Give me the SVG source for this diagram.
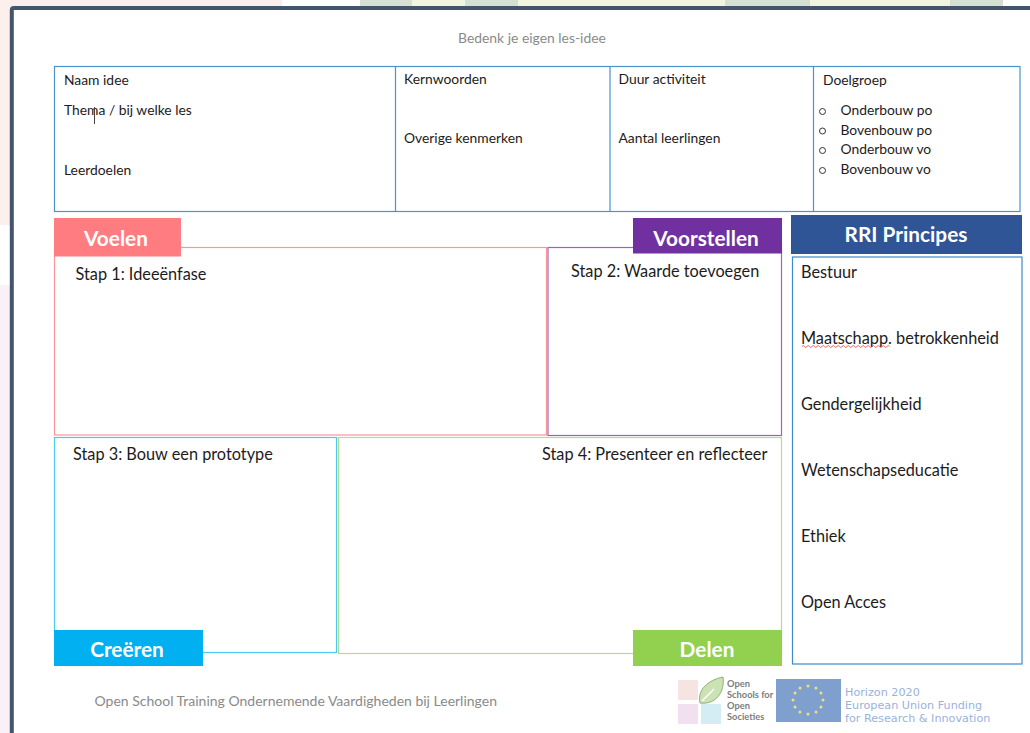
<svg xmlns="http://www.w3.org/2000/svg" width="1030" height="733" viewBox="0 0 1030 733">
<style>
text{font-family:Lato,"Liberation Sans",sans-serif;fill:#1c1c1c}
.s{font-size:13.85px}
.m{font-size:16.3px}
.g{font-size:13.9px;fill:#8a8a8a}
.b{font-size:20.8px;font-weight:700;fill:#fff;text-anchor:middle}
.l{fill:none;stroke-width:1.2}
.t{stroke:#4a93cf;fill:#fff;stroke-width:1.2}
.os{font-size:9.3px;font-weight:700;fill:#7d7d7d}
.hz{font-size:11.2px;fill:#9ab2da;font-family:"DejaVu Sans",sans-serif}
.gd{fill:#d6e0d0}
.lg{fill:#f0f6de}
</style>
<rect width="1030" height="733" fill="#fff"/>
<rect width="282" height="7" fill="#f8eeec"/>
<rect width="10" height="225" fill="#fbf0ec"/>
<rect y="285" width="10" height="448" fill="#f9f0f8"/>
<rect class="gd" x="360" width="52" height="7"/>
<rect class="lg" x="412" width="53" height="7"/>
<rect class="gd" x="465" width="53" height="7"/>
<rect class="lg" x="518" width="207" height="7"/>
<rect class="gd" x="725" width="85" height="7"/>
<rect class="lg" x="810" width="140" height="7"/>
<rect class="gd" x="950" width="53" height="7"/>
<path d="M11.800 733V10Q11.800 8 13.800 8H1030" fill="none" stroke="#44546a" stroke-width="4"/>
<text x="458" y="43" class="g">Bedenk je eigen les-idee</text>
<g id="info-table">
<rect class="t" x="54.500" y="66.500" width="965.500" height="145"/>
<path d="M395.500 66.500V211.500M610 66.500V211.500M813.500 66.500V211.500" stroke="#4a93cf" stroke-width="1.200" fill="none"/>
<text class="s" x="64" y="85">Naam idee</text>
<text class="s" x="64" y="115">Thema / bij welke les</text>
<path d="M94.500 107V124" stroke="#444" stroke-width="1"/>
<text class="s" x="64" y="175">Leerdoelen</text>
<text class="s" x="404" y="84">Kernwoorden</text>
<text class="s" x="404" y="143">Overige kenmerken</text>
<text class="s" x="618.500" y="84">Duur activiteit</text>
<text class="s" x="618.500" y="143">Aantal leerlingen</text>
<text class="s" x="823" y="85">Doelgroep</text>
<g fill="none" stroke="#333" stroke-width="1"><circle cx="822.500" cy="111.500" r="3"/><circle cx="822.500" cy="131" r="3"/><circle cx="822.500" cy="150.500" r="3"/><circle cx="822.500" cy="170.500" r="3"/></g>
<text class="s" x="840.500" y="115">Onderbouw po</text>
<text class="s" x="840.500" y="135">Bovenbouw po</text>
<text class="s" x="840.500" y="154">Onderbouw vo</text>
<text class="s" x="840.500" y="174">Bovenbouw vo</text>
</g>
<g id="stap1">
<rect class="l" x="54.500" y="247.500" width="492" height="187.500" stroke="#ff9599"/>
<rect x="54" y="218" width="127" height="38.500" fill="#ff7c80"/>
<text class="b" x="116" y="245.500">Voelen</text>
<text class="m" x="75.500" y="279.500">Stap 1: Ideeënfase</text>
</g>
<g id="stap2">
<rect class="l" x="548" y="247.500" width="233.500" height="188" stroke="#9468b8"/>
<rect x="633" y="218" width="149" height="35.500" fill="#7030a0"/>
<text class="b" x="706" y="245.500">Voorstellen</text>
<text class="m" x="571" y="276.500">Stap 2: Waarde toevoegen</text>
</g>
<g id="stap3">
<rect class="l" x="54.500" y="437.500" width="282" height="215" stroke="#4cc8f2"/>
<rect x="54" y="630" width="149" height="36" fill="#00b0f0"/>
<text class="b" x="127" y="656.500">Creëren</text>
<text class="m" x="73" y="459.500">Stap 3: Bouw een prototype</text>
</g>
<g id="stap4">
<rect class="l" x="338.500" y="437.500" width="443" height="216" stroke="#b2de8c"/>
<rect x="633" y="630" width="149" height="36" fill="#92d050"/>
<text class="b" x="707" y="656.500">Delen</text>
<text class="m" x="542" y="459.500">Stap 4: Presenteer en reflecteer</text>
</g>
<g id="rri">
<rect x="791" y="215" width="231" height="39" fill="#2f5597"/>
<text class="b" x="906" y="241.500">RRI Principes</text>
<rect class="l" x="792.500" y="257" width="229.500" height="407" stroke="#3a8ccc"/>
<text class="m" x="801" y="277.500">Bestuur</text>
<text class="m" x="801" y="343.500">Maatschapp. betrokkenheid</text>
<path d="M802 346.500q1.250 -2 2.500 0t2.500 0t2.500 0t2.500 0t2.500 0t2.500 0t2.500 0t2.500 0t2.500 0t2.500 0t2.500 0t2.500 0t2.500 0t2.500 0t2.500 0t2.500 0t2.500 0t2.500 0t2.500 0t2.500 0t2.500 0t2.500 0t2.500 0t2.500 0t2.500 0t2.500 0t2.500 0t2.500 0t2.500 0t2.500 0t2.500 0t2.500 0t2.500 0t2.500 0t2.500 0" fill="none" stroke="#e0413c" stroke-width="0.800"/>
<text class="m" x="801" y="409.500">Gendergelijkheid</text>
<text class="m" x="801" y="475.500">Wetenschapseducatie</text>
<text class="m" x="801" y="541.500">Ethiek</text>
<text class="m" x="801" y="607.500">Open Acces</text>
</g>
<g id="footer">
<text class="g" x="94.500" y="706" style="font-size:14px">Open School Training Ondernemende Vaardigheden bij Leerlingen</text>
<rect x="678" y="680" width="20" height="20" fill="#f5e4e2"/>
<rect x="678" y="704" width="20" height="20" fill="#f1e0f0"/>
<rect x="701" y="704" width="20" height="20" fill="#d4edf4"/>
<path d="M700 703C697 690 708 680 723 677C725 692 716 705 700 703Z" fill="#cbe2b4" stroke="#8fae7a" stroke-width="1"/>
<path d="M702 701L714 689" stroke="#fff" stroke-width="1.500"/>
<text class="os" x="727" y="687">Open</text>
<text class="os" x="727" y="698">Schools for</text>
<text class="os" x="727" y="709">Open</text>
<text class="os" x="727" y="720">Societies</text>
<rect x="776" y="679" width="65" height="43" fill="#7f9fcf"/>
<g fill="#ece37a"><circle cx="808" cy="686" r="1.500"/><circle cx="816" cy="688" r="1.500"/><circle cx="821" cy="693" r="1.500"/><circle cx="823" cy="700" r="1.500"/><circle cx="821" cy="707" r="1.500"/><circle cx="816" cy="712" r="1.500"/><circle cx="808" cy="714" r="1.500"/><circle cx="800" cy="712" r="1.500"/><circle cx="795" cy="707" r="1.500"/><circle cx="793" cy="700" r="1.500"/><circle cx="795" cy="693" r="1.500"/><circle cx="800" cy="688" r="1.500"/></g>
<text class="hz" x="845" y="695.500">Horizon 2020</text>
<text class="hz" x="845" y="708.500">European Union Funding</text>
<text class="hz" x="845" y="722">for Research &amp; Innovation</text>
</g>
</svg>
